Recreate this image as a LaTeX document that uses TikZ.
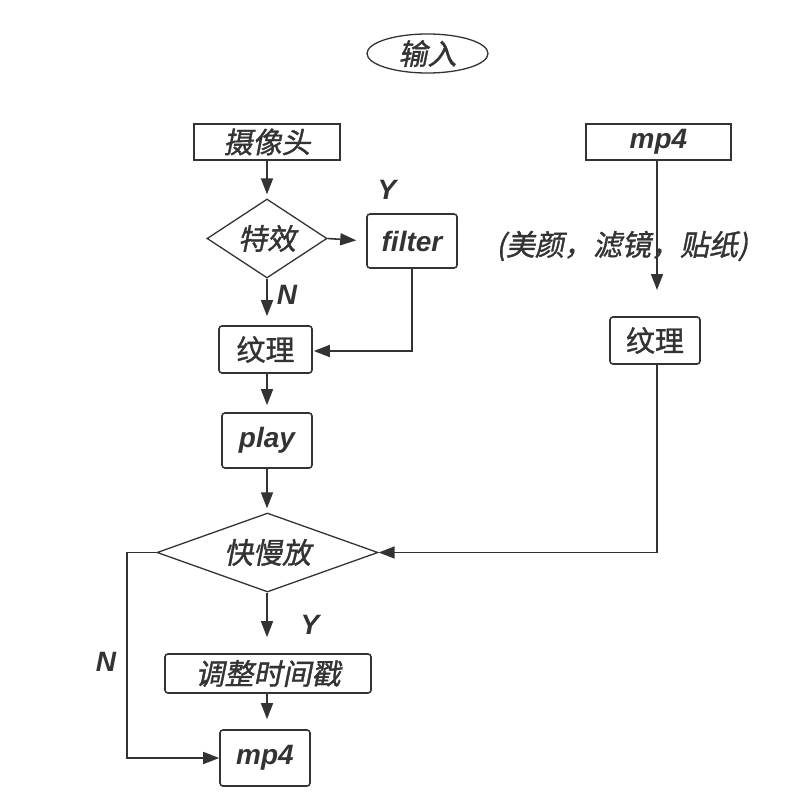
\documentclass[tikz,border=0pt]{standalone}
\usepackage{fontspec}
\setmainfont{Liberation Sans}
\newfontfamily\cjk{Noto Sans CJK SC}[FakeBold=1.2]
\newfontfamily\cjkit{Noto Sans CJK SC}[FakeSlant=0.2,FakeBold=1.2]
\usetikzlibrary{shapes.geometric,arrows.meta}
\definecolor{ink}{HTML}{333333}
\tikzset{
  every node/.style={text=ink},
  box/.style={draw=ink, line width=1.6pt, inner sep=0pt},
  rbox/.style={box, rounded corners=3pt},
  dia/.style={draw=ink, line width=1.3pt, shape=diamond, inner sep=0pt},
  ci/.style={font=\cjkit\fontsize{29}{33}\selectfont},
  cn/.style={font=\cjk\fontsize{29}{33}\selectfont},
  li/.style={font=\bfseries\itshape\fontsize{28}{32}\selectfont},
  arr/.style={draw=ink, line width=1.6pt, -{Triangle[length=16pt,width=12pt]}},
}
\begin{document}
\begin{tikzpicture}[x=1pt,y=-1pt]
\useasboundingbox (0,0) rectangle (796,810);
% nodes
\node[draw=ink, line width=1.3pt, ellipse, minimum width=121pt, minimum height=39pt, inner sep=0pt, ci] (inp) at (427.5,53.5) {输入};
\node[box, minimum width=146pt, minimum height=36pt, ci] (cam) at (267,142) {摄像头};
\node[dia, minimum width=120pt, minimum height=79pt, aspect=1.5, ci] (fx) at (267,238.5) {特效};
\node[rbox, minimum width=90pt, minimum height=54pt, li] (flt) at (412,241) {filter};
\node[rbox, minimum width=93pt, minimum height=47pt, cn] (tex1) at (265.5,349.5) {纹理};
\node[rbox, minimum width=90pt, minimum height=55pt, li] (play) at (267,440.5) {play};
\node[dia, minimum width=221pt, minimum height=79pt, aspect=2.8, ci] (spd) at (267.5,552.5) {快慢放};
\node[rbox, minimum width=206pt, minimum height=39pt, ci] (adj) at (268,673.5) {调整时间戳};
\node[rbox, minimum width=90pt, minimum height=56pt, li] (out) at (265,758) {mp4};
\node[box, minimum width=145pt, minimum height=36pt, li] (mp4r) at (658.5,142) {mp4};
\node[rbox, minimum width=90pt, minimum height=47pt, cn] (tex2) at (655,340.5) {纹理};
% labels
\node[li] (ly1) at (387,190) {Y};
\node[li] (ln1) at (287,295) {N};
\node[li] (ly2) at (310,625) {Y};
\node[li] (ln2) at (106,662) {N};
\node[ci] (cap) at (622,246) {(美颜，滤镜，贴纸)};
% coordinates
\coordinate (c1) at (412,351);
\coordinate (c2) at (127,552.5);
\coordinate (c3) at (127,758);
\coordinate (c4) at (657,290);
\coordinate (c5) at (657,552.5);
\coordinate (vx) at (267,0);
% connectors
\draw[arr, shorten >=4pt] (cam.south) -- (fx.north);
\draw[arr, shorten >=10pt] (fx.east) -- (flt.west);
\draw[arr, shorten >=9pt] (fx.south) -- (fx.south |- tex1.north);
\draw[arr, shorten >=1pt] (flt.south) -- (c1) -- (tex1.east |- c1);
\draw[arr, shorten >=7pt] (tex1.south -| vx) -- (play.north -| vx);
\draw[arr, shorten >=4pt] (play.south -| vx) -- (spd.north -| vx);
\draw[arr, shorten >=16pt] (spd.south -| vx) -- (adj.north -| vx);
\draw[arr, shorten >=10pt] (adj.south -| vx) -- (out.north -| vx);
\draw[arr] (spd.west) -- (c2) -- (c3) -- (out.west);
\draw[arr] (mp4r.south -| c4) -- (c4);
\draw[arr] (tex2.south -| c5) -- (c5) -- (spd.east);
\end{tikzpicture}
\end{document}
